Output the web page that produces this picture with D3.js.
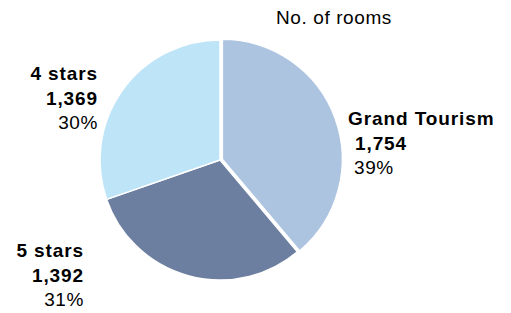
<!DOCTYPE html>
<html>
<head>
<meta charset="utf-8">
<script src="https://cdn.jsdelivr.net/npm/d3@7"></script>
<style>
  body { margin: 0; background: #fff; }
  svg { display: block; font-family: Arial, "Liberation Sans", sans-serif; }
</style>
</head>
<body>
<svg id="chart"></svg>
<script>
// data
const categories = ['Grand Tourism', '5 stars', '4 stars'];
const rooms = [1754, 1392, 1369];
const colors = ['#adc4e1', '#6c7fa0', '#bee4f8'];
const title = 'No. of rooms';

const width = 511, height = 313;
const cx = 220, cy = 160, radius = 120;

const svg = d3.select('#chart')
  .attr('width', width)
  .attr('height', height);

const total = d3.sum(rooms);
const fmtNum = d3.format(',');
const fmtPct = d3.format('.0%');

const pie = d3.pie().sort(null).value(d => d.value);
const arc = d3.arc().innerRadius(0).outerRadius(radius);

const slices = pie(categories.map((c, i) => ({ name: c, value: rooms[i], color: colors[i] })));

const g = svg.append('g').attr('transform', `translate(${cx},${cy})`);

// pull the first slice (Grand Tourism) out a little
const explode = [2.5, 0, 0];

g.selectAll('path')
  .data(slices)
  .join('path')
  .attr('d', arc)
  .attr('fill', d => d.data.color)
  .attr('stroke', '#fff')
  .attr('stroke-width', 1.5)
  .attr('transform', (d, i) => {
    const a = (d.startAngle + d.endAngle) / 2;
    return `translate(${Math.sin(a) * explode[i]},${-Math.cos(a) * explode[i]})`;
  });

// title
svg.append('text')
  .attr('x', 276)
  .attr('y', 24)
  .attr('font-size', 19)
  .attr('letter-spacing', 0.6)
  .attr('fill', '#000')
  .text(title);

// label layout: [x of each line, baseline of first line, anchor]
const labelPos = [
  { xs: [348, 355, 354], y: 125, anchor: 'start' },
  { xs: [84, 84, 84], y: 257, anchor: 'end' },
  { xs: [98, 98, 98], y: 80, anchor: 'end' }
];
const lineGap = 24.5;

slices.forEach((d, i) => {
  const p = labelPos[i];
  const lines = [
    { t: d.data.name, bold: true },
    { t: fmtNum(d.data.value), bold: true },
    { t: fmtPct(d.data.value / total), bold: false }
  ];
  lines.forEach((l, k) => {
    svg.append('text')
      .attr('x', p.xs[k])
      .attr('y', p.y + k * lineGap)
      .attr('text-anchor', p.anchor)
      .attr('font-size', 19)
      .attr('font-weight', l.bold ? 'bold' : 'normal')
      .attr('letter-spacing', l.bold ? 0.9 : 0.6)
      .attr('fill', '#000')
      .text(l.t);
  });
});
</script>
</body>
</html>
